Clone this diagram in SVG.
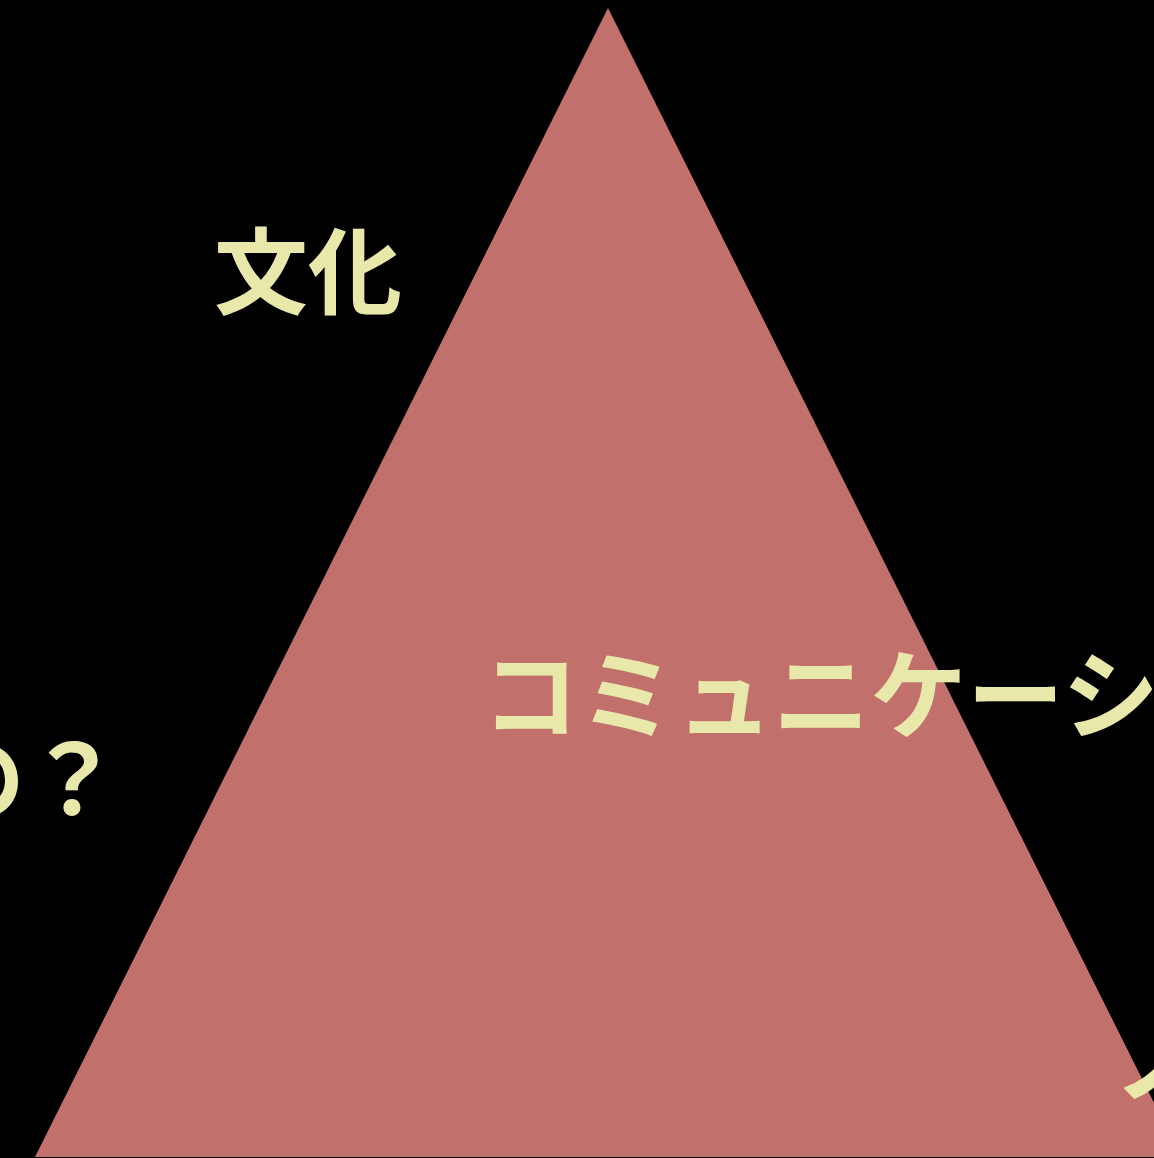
<svg xmlns="http://www.w3.org/2000/svg" width="1154" height="1158" viewBox="0 0 1154 1158">
<style>
.t{font-family:"Noto Sans CJK JP","Noto Sans CJK SC",sans-serif;font-weight:700;fill:#e8e8aa}
</style>
<rect width="1154" height="1158" fill="#000"/>
<g id="triangle"><polygon points="608,8 35,1157 1181,1157" fill="#c1706c"/></g>
<g id="label-bunka"><text class="t" x="214" y="307" font-size="94">文化</text></g>
<g id="label-comm"><text class="t" x="482" y="731" font-size="97">コミュニケーション</text></g>
<g id="label-q"><text class="t" x="121" y="814" font-size="96" text-anchor="end">の？</text></g>
<g id="label-br"><text class="t" x="1113" y="1095" font-size="96">ノ</text></g>
<g id="connectors"></g>
</svg>
